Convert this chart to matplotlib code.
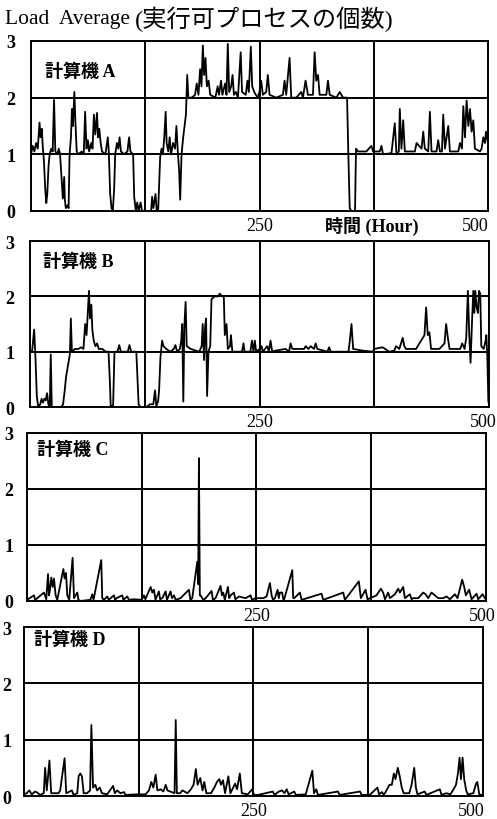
import matplotlib
matplotlib.use('Agg')
import matplotlib.pyplot as plt
from matplotlib.transforms import ScaledTranslation

plt.rcParams['font.family'] = ['Liberation Serif', 'Noto Sans CJK JP']
plt.rcParams['font.size'] = 12

# 計算機 A
a_hours = [0, 1.9, 3.7, 5.6, 7.4, 9.3, 10.4, 11.8, 13.0, 14.1, 15.5, 16.7, 17.8, 19.2, 20.4,
           22.2, 23.7, 25.2, 26.6, 28.9, 30.3, 31.8, 33.3, 34.8, 36.3, 37.0, 38.1, 40.0, 41.1,
           42.2, 43.7, 44.8, 45.9, 47.4, 48.5, 50.0, 51.8, 55.5, 57.7, 59.2, 60.7, 62.2, 63.6,
           65.9, 67.3, 68.8, 70.3, 72.2, 73.3, 74.7, 76.2, 77.7, 81.4, 84.0, 85.1, 86.6, 88.1,
           89.5, 91.0, 92.1, 94.0, 95.5, 96.9, 98.4, 101.8, 105.5, 107.3, 108.8, 111.7, 112.9,
           114.7, 116.2, 117.7, 119.9, 121.4, 131.4, 132.5, 133.9, 136.2, 137.6, 139.1, 141.3,
           142.8, 144.3, 145.8, 147.3, 148.4, 150.2, 151.7, 153.2, 155.4, 157.6, 159.1, 160.6,
           162.1, 163.2, 164.7, 166.5, 168.0, 169.5, 170.9, 172.1, 175.8, 179.5, 181.3, 183.2,
           185.0, 186.5, 188.0, 189.4, 190.9, 192.4, 194.3, 196.1, 201.7, 204.2, 205.7, 207.9,
           209.4, 212.4, 213.9, 215.3, 216.8, 219.0, 220.5, 222.0, 224.2, 226.4, 229.4, 230.9,
           235.0, 236.8, 238.3, 240.5, 242.0, 244.2, 247.9,
           250.0, 251.8, 253.7, 257.3, 259.1, 261.0, 268.3, 275.6, 277.4, 279.2, 282.9, 284.7,
           290.2, 295.7, 297.5, 300.4, 303.0, 308.5, 310.3, 312.1, 314.0, 315.8, 323.1, 324.9,
           326.8, 334.1, 337.7, 341.4, 345.8, 347.2, 348.7, 350.5, 354.5, 355.6, 357.8, 366.9,
           372.4, 374.3, 381.6, 383.4, 385.2, 394.4, 398.0, 399.9, 402.4, 403.5, 405.3, 407.2,
           409.0, 420.0, 421.8, 427.3, 429.1, 430.9, 434.6, 436.4, 438.2, 443.7, 445.5, 447.4,
           449.6, 451.0, 452.9, 456.5, 458.3, 467.5, 469.3, 471.5, 473.0, 474.8, 476.6, 478.5,
           480.3, 482.1, 483.9, 485.7, 491.2, 493.0, 494.9, 496.7, 497.8, 500]
a_load = [1.0, 1.15, 1.05, 1.2, 1.1, 1.56, 1.3, 1.45, 1.1, 0.9, 0.4, 0.14, 0.3, 0.8, 1.0,
          1.1, 1.05, 1.96, 1.05, 1.0, 1.1, 1.0, 0.6, 0.22, 0.6, 0.2, 0.05, 0.1, 0.05,
          1.0, 1.3, 1.8, 1.5, 2.1, 1.6, 1.05, 1.0, 1.05, 1.0, 1.75, 1.1, 1.25, 1.05,
          1.2, 1.1, 1.7, 1.35, 1.73, 1.3, 1.45, 1.2, 1.05, 1.0, 1.3, 1.05, 0.3, 0.05,
          0.0, 0.4, 1.0, 1.2, 1.1, 1.3, 1.05, 1.0, 1.05, 1.3, 1.05, 1.0, 0.25,
          0.0, 0.15, 0.0, 0.15, 0.0, 0.0, 0.25, 0.05, 0.3, 0.0, 0.0, 0.95,
          1.1, 1.0, 1.3, 1.75, 1.2, 1.05, 1.3, 1.0, 1.2, 1.1, 1.5, 1.05,
          0.7, 0.2, 1.0, 1.3, 1.5, 1.7, 2.4, 2.0, 2.0, 2.05, 2.25, 2.05,
          2.5, 2.2, 2.92, 2.4, 2.7, 2.2, 2.3, 2.05, 2.0, 2.2, 2.05, 2.3,
          2.05, 2.25, 2.05, 2.95, 2.1, 2.2, 2.4, 2.05, 2.1, 2.0, 2.8, 2.1,
          2.05, 2.3, 2.1, 2.9, 2.2, 2.1, 2.0,
          2.1, 2.3, 2.05, 2.1, 2.4, 2.05, 2.0, 2.05, 2.3, 2.05, 2.7, 2.0,
          2.0, 2.1, 2.0, 2.3, 2.05, 2.05, 2.8, 2.3, 2.4, 2.05, 2.05, 2.3,
          2.05, 2.0, 2.1, 2.0, 2.0, 1.0, 0.05, 0.0, 0.0, 1.1, 1.05, 1.05,
          1.15, 1.05, 1.05, 1.15, 1.0, 1.02, 1.55, 1.0, 1.05, 1.8, 1.1, 1.6,
          1.05, 1.05, 1.2, 1.1, 1.4, 1.1, 1.05, 1.75, 1.05, 1.05, 1.25, 1.05,
          1.05, 1.7, 1.1, 1.5, 1.05, 1.05, 1.2, 1.1, 1.85, 1.3, 1.95, 1.5,
          1.8, 1.4, 1.6, 1.1, 1.05, 1.1, 1.3, 1.2, 1.4, 1.2]

# 計算機 B
b_hours = [0, 2.2, 4.5, 5.9, 7.4, 8.9, 11.1, 12.6, 14.1, 15.6, 17.1, 18.6, 20.0, 21.5, 22.6,
           23.7, 34.1, 36.0, 37.8, 39.3, 40.8, 42.3, 43.4, 44.5, 45.6, 49.0, 52.7, 55.7, 58.2,
           60.1, 61.6, 63.1, 64.2, 65.3, 66.8, 67.9, 69.4, 71.2, 73.1, 74.9, 78.7, 82.4, 85.5,
           86.9, 87.9, 90.5, 92.0, 95.3, 97.2, 99.0, 106.5, 108.3, 110.2, 115.8, 116.9, 118.3,
           120.2, 126.9, 130.6, 134.3, 136.2, 137.6, 139.5, 140.6, 142.1, 143.9, 145.4, 148.4,
           152.9, 156.6, 158.4, 160.3, 163.2, 164.7, 165.8, 167.0, 168.1, 169.5, 170.7, 175.1,
           184.4, 187.0, 188.1, 189.6, 190.7, 191.8, 192.9, 194.4, 196.3, 197.7, 201.1, 204.8,
           206.6, 209.2, 211.1, 212.2, 214.1, 215.5, 217.8, 218.9, 220.4, 230.8, 232.6, 233.7,
           240.0, 241.8, 243.4, 244.9, 246.3,
           250, 252.2, 253.6, 258.4, 260.2, 262.0, 263.8, 267.5, 278.4, 282.1, 283.9, 285.7,
           298.5, 300.3, 303.2, 305.8, 309.4, 311.2, 313.0, 324.0, 325.8, 327.6, 346.9, 348.4,
           350.2, 352.0, 362.2, 373.2, 375.0, 384.1, 391.4, 396.9, 398.7, 402.3, 406.0, 407.8,
           409.6, 420.5, 429.7, 431.5, 433.3, 435.1, 436.9, 446.0, 451.5, 453.3, 455.2, 457.0,
           468.6, 470.8, 473.4, 475.2, 477.0, 478.5, 479.9, 481.4, 482.9, 484.0, 485.0, 486.5,
           488.0, 489.1, 490.5, 491.6, 494.2, 496.3, 497.1, 498.2, 499.3, 500]
b_load = [1.0, 1.0, 1.4, 0.9, 0.2, 0.0, 0.05, 0.15, 0.08, 0.15, 0.12, 0.25, 0.05, 0.0, 0.95,
          0.0, 0.0, 0.05, 0.3, 0.55, 0.7, 0.85, 0.95, 1.6, 1.0, 1.05, 1.05, 1.08, 1.05,
          1.5, 1.3, 1.75, 2.1, 1.6, 1.85, 1.4, 1.2, 1.1, 1.15, 1.05, 1.05, 1.0, 1.0,
          0.5, 0.02, 0.02, 1.0, 1.0, 1.12, 1.0, 1.0, 1.12, 1.0, 1.0, 0.6, 0.05,
          0.0, 0.0, 0.05, 0.05, 0.3, 0.02, 0.1, 0.3, 0.9, 1.2, 1.1, 1.05,
          1.0, 1.05, 1.12, 1.0, 1.05, 1.2, 1.5, 0.1, 1.45, 1.9, 1.1, 1.05,
          1.0, 1.1, 1.5, 0.85, 1.45, 1.6, 0.2, 1.0, 1.1, 1.95, 2.0, 2.0,
          2.05, 2.0, 2.0, 1.3, 1.5, 1.05, 1.1, 1.3, 1.0, 1.0, 1.15, 1.0,
          1.0, 1.2, 1.0, 1.2, 1.0,
          1.05, 1.1, 1.0, 1.1, 1.0, 1.2, 1.0, 1.02, 1.05, 1.0, 1.15, 1.05,
          1.05, 1.1, 1.05, 1.1, 1.05, 1.15, 1.05, 1.0, 1.08, 1.0, 1.0, 1.2,
          1.5, 1.05, 1.02, 1.0, 1.05, 1.08, 1.0, 1.02, 1.1, 1.05, 1.25, 1.1,
          1.05, 1.05, 1.3, 1.8, 1.3, 1.35, 1.05, 1.05, 1.15, 1.5, 1.25, 1.05,
          1.05, 1.15, 1.05, 1.25, 2.1, 1.3, 0.8, 1.5, 2.1, 1.7, 2.1, 1.8,
          1.7, 2.1, 2.05, 1.1, 1.05, 1.2, 1.3, 0.9, 0.1, 0.05]

# 計算機 C
c_hours = [0, 7.6, 9, 18.5, 21, 22.9, 24, 25.0, 26.5, 28.0, 29.4, 31.2, 33, 39.6, 41.0, 42.5,
           43.9, 46, 49.7, 51.2, 54.8, 56, 58.4, 69, 71.1, 72.5, 80.9, 82, 83.8, 87.5, 89,
           94.7, 96, 97.6, 103.8, 105, 109.3, 111, 116.5, 125, 127.4, 129, 134.7, 136.5, 138.3,
           140, 143.7, 145, 147.4, 151.0, 152.5, 156.4, 158, 160.1, 162, 167.3, 176.4, 178,
           180.0, 185.5, 186.5, 187.3, 188.3, 189.1, 192, 194.6, 201.1, 202.5, 205.4, 210.9,
           212.3, 213.8, 215.5, 218.9, 220.3, 221.8, 225.4, 227, 230.9, 238.1, 243.6, 245,
           249.0, 253.7, 257.4, 261.0, 264.6, 266.5, 268, 270.1, 273.0, 274.3, 275.5, 278.0,
           279.2, 280.2, 289.0, 290, 291.1, 297.3, 299.1, 320.9, 322.7, 344.5, 346.3, 361.5,
           363.7, 368.8, 371.0, 380.8, 385.5, 388.0, 390, 393.5, 395.3, 400.8, 404.4, 406.2,
           409.8, 411.7, 417.1, 419, 420.7, 426.2, 431.6, 434.2, 437.1, 440.7, 444.3, 448.0,
           453.4, 457.1, 460.7, 466.1, 469.0, 474.1, 476.3, 478.1, 481.7, 484.3, 489.7, 491.5,
           496.3, 498.8, 500]
c_load = [0.02, 0.1, 0.02, 0.15, 0.03, 0.48, 0.1, 0.2, 0.42, 0.25, 0.4, 0.1, 0.02, 0.57, 0.4, 0.5,
          0.1, 0.02, 0.77, 0.05, 0.15, 0.02, 0.0, 0.02, 0.12, 0.02, 0.73, 0.05, 0.02, 0.08, 0.02,
          0.1, 0.02, 0.05, 0.1, 0.02, 0.08, 0.02, 0.03, 0.02, 0.1, 0.03, 0.25, 0.15, 0.2,
          0.02, 0.17, 0.03, 0.05, 0.17, 0.02, 0.17, 0.05, 0.1, 0.02, 0.05, 0.2, 0.02,
          0.05, 0.7, 0.3, 2.55, 0.1, 0.1, 0.02, 0.05, 0.18, 0.02, 0.05, 0.27,
          0.1, 0.15, 0.02, 0.25, 0.05, 0.1, 0.15, 0.03, 0.08, 0.05, 0.1, 0.02,
          0.05, 0.05, 0.05, 0.08, 0.32, 0.1, 0.02, 0.05, 0.2, 0.05, 0.15, 0.15,
          0.03, 0.03, 0.55, 0.05, 0.05, 0.15, 0.02, 0.13, 0.02, 0.15, 0.02, 0.35,
          0.05, 0.2, 0.03, 0.1, 0.22, 0.15, 0.03, 0.15, 0.05, 0.12, 0.22, 0.15,
          0.25, 0.05, 0.12, 0.03, 0.05, 0.05, 0.15, 0.12, 0.05, 0.15, 0.1, 0.05,
          0.05, 0.08, 0.03, 0.12, 0.05, 0.38, 0.25, 0.1, 0.2, 0.03, 0.13, 0.03,
          0.12, 0.05, 0.02]

# 計算機 D
d_hours = [0, 2.9, 5.8, 8.4, 12.0, 14.6, 17.5, 21.5, 23.0, 24.8, 27.7, 29.6, 37.6, 39.4, 44.2,
           46.0, 52.2, 54.0, 58, 59.5, 61.3, 63.1, 65.0, 68.6, 72, 73.4, 75.2, 77.7, 79.6, 82.5,
           85.0, 90.5, 97.1, 98.9, 101.5, 105.1, 108.8, 110.6, 123.4, 132.5, 136.1, 138.7, 140.9,
           143.4, 145.3, 148.9, 151.8, 154.4, 156.2, 164, 165.3, 166.5, 170.1, 172.6, 178.1,
           181.8, 184.7, 187.2, 189.1, 192.0, 194.5, 196.4, 198.6, 203.7, 207.3, 210.2, 212.8,
           214.6, 216.8, 219.0, 222.6, 224.8, 230.0, 232.1, 235.1, 237.3, 243.8, 248.6, 250.5,
           255.0, 271.1, 272.9, 277.6, 281.1, 283.7, 286.2, 288.3, 294.4, 296.2, 306.9, 314.1,
           315.9, 318.4, 320.2, 342.0, 343.8, 366.0, 367.8, 376.7, 385.0, 386.8, 390.0, 392.1,
           398.2, 400.7, 402.9, 404.7, 407.2, 409.3, 411.5, 413.6, 419.7, 422.2, 425.1, 426.9,
           428.6, 436.5, 438.3, 453.0, 454.8, 460.2, 464.4, 468.0, 470.6, 472.7, 474.5, 476.0,
           477.8, 479.5, 481.7, 483.4, 489.5, 492.4, 493.8, 496.0, 498.4, 500]
d_load = [0.03, 0.05, 0.1, 0.03, 0.08, 0.06, 0.02, 0.05, 0.5, 0.1, 0.63, 0.05, 0.05, 0.1, 0.67,
          0.05, 0.1, 0.02, 0.05, 0.35, 0.4, 0.35, 0.05, 0.05, 0.1, 1.26, 0.15, 0.2, 0.1, 0.15,
          0.05, 0.03, 0.18, 0.05, 0.1, 0.05, 0.07, 0.02, 0.03, 0.03, 0.1, 0.25, 0.15,
          0.38, 0.1, 0.12, 0.08, 0.2, 0.1, 0.05, 1.35, 0.05, 0.05, 0.1, 0.05,
          0.12, 0.2, 0.48, 0.2, 0.32, 0.1, 0.25, 0.05, 0.05, 0.15, 0.25, 0.3,
          0.2, 0.28, 0.05, 0.35, 0.05, 0.22, 0.12, 0.4, 0.05, 0.03, 0.12, 0.02,
          0.02, 0.08, 0.02, 0.08, 0.1, 0.05, 0.12, 0.03, 0.08, 0.02, 0.03, 0.45,
          0.05, 0.12, 0.02, 0.08, 0.02, 0.08, 0.02, 0.02, 0.15, 0.03, 0.07, 0.02,
          0.2, 0.2, 0.4, 0.3, 0.5, 0.35, 0.15, 0.05, 0.05, 0.2, 0.5, 0.15,
          0.03, 0.08, 0.02, 0.12, 0.02, 0.05, 0.03, 0.12, 0.2, 0.4, 0.68, 0.3,
          0.68, 0.3, 0.1, 0.03, 0.05, 0.22, 0.25, 0.03, 0.02, 0.02]

names = ['計算機 A', '計算機 B', '計算機 C', '計算機 D']
series = [(a_hours, a_load), (b_hours, b_load), (c_hours, c_load), (d_hours, d_load)]

# axes boxes [left, bottom, width, height] in figure fraction
boxes = [[0.0624, 0.7415, 0.9195, 0.2073],
         [0.0604, 0.5024, 0.9235, 0.2024],
         [0.0543, 0.2659, 0.9235, 0.2049],
         [0.0483, 0.0280, 0.9235, 0.2061]]
label_pos = [(0.031, 0.82), (0.028, 0.88), (0.022, 0.90), (0.022, 0.93)]
ypads = [11, 11, 10, 9]
shift_500 = [0.01, 0.08, 0.10, 0.02]   # inches, right-aligned "500" label

fig = plt.figure(figsize=(4.97, 8.2), dpi=100)
fig.text(0.01, 0.976, 'Load  Average', fontsize=15.5, va='center')
fig.text(0.272, 0.976, '(実行可プロセスの個数)', fontsize=17.5, va='center')

for i in range(4):
    ax = fig.add_axes(boxes[i])
    x, y = series[i]
    ax.plot(x, y, color='black', lw=1.3)
    ax.set_xlim(0, 500)
    ax.set_ylim(0, 3)
    for v in [125, 250, 375]:
        ax.axvline(v, color='black', lw=1.4)
    for v in [1, 2]:
        ax.axhline(v, color='black', lw=1.4)
    for s in ax.spines.values():
        s.set_linewidth(1.4)
    ax.set_yticks([0, 1, 2, 3])
    ax.set_yticklabels(['0', '1', '2', '3'], fontweight='bold', fontsize=13)
    ax.set_xticks([250, 500])
    ax.set_xticklabels(['250', '500'], fontsize=13)
    ax.tick_params(length=0, pad=4)
    ax.tick_params(axis='y', pad=ypads[i])
    lbl = ax.get_xticklabels()[1]
    lbl.set_ha('right')
    lbl.set_transform(lbl.get_transform() + ScaledTranslation(shift_500[i], 0, fig.dpi_scale_trans))
    ax.text(label_pos[i][0], label_pos[i][1], names[i], transform=ax.transAxes, fontsize=13,
            fontweight='bold', va='center')
    if i == 0:
        ax.text(373, -0.085, '時間 (Hour)', transform=ax.get_xaxis_transform(),
                fontsize=13, fontweight='bold', ha='center', va='center')

fig.savefig('out.png', dpi=100)
